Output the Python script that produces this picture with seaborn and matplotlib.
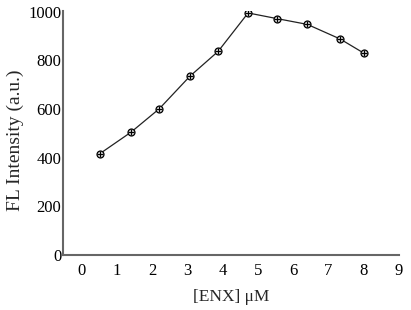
import matplotlib
matplotlib.use("Agg")
import matplotlib.pyplot as plt
import seaborn as sns
import pandas as pd

conc = [0.52, 1.40, 2.20, 3.07, 3.87, 4.72, 5.53, 6.40, 7.33, 8.00]
intensity = [417, 505, 601, 735, 837, 995, 972, 948, 888, 830]
xticks = [0, 1, 2, 3, 4, 5, 6, 7, 8, 9]
yticks = [0, 200, 400, 600, 800, 1000]

df = pd.DataFrame({"conc": conc, "intensity": intensity})

sns.set_style("white")
plt.rcParams['font.family'] = ['Liberation Serif', 'DejaVu Serif']

fig = plt.figure(figsize=(4.11, 3.10), dpi=100)
ax = fig.add_axes([0.1545, 0.1774, 0.8163, 0.7871])

sns.lineplot(data=df, x="conc", y="intensity", ax=ax, color="#222222",
             linewidth=0.9, marker="o", markersize=5, markerfacecolor="#cccccc",
             markeredgecolor="black", markeredgewidth=0.9)
sns.scatterplot(data=df, x="conc", y="intensity", ax=ax, marker="+",
                color="black", s=20, linewidth=0.8, zorder=5)

ax.set_xlim(-0.516, 9)
ax.set_ylim(0, 1003)
ax.set_xticks(xticks)
ax.set_yticks(yticks)
ax.tick_params(axis="both", direction="in", length=4, width=1, color="#555555",
               labelsize=12, labelcolor="black")
ax.tick_params(axis="x", pad=6)
ax.tick_params(axis="y", pad=1.5)
for s in ["top", "right"]:
    ax.spines[s].set_visible(False)
for s in ["left", "bottom"]:
    ax.spines[s].set_color("#666666")
    ax.spines[s].set_linewidth(1.5)

ax.set_xlabel("[ENX] μM", fontsize=12.5, labelpad=7)
ax.set_ylabel("FL Intensity (a.u.)", fontsize=14)
ax.yaxis.set_label_coords(-0.118, 0.47)

fig.savefig("out.png", dpi=100)
